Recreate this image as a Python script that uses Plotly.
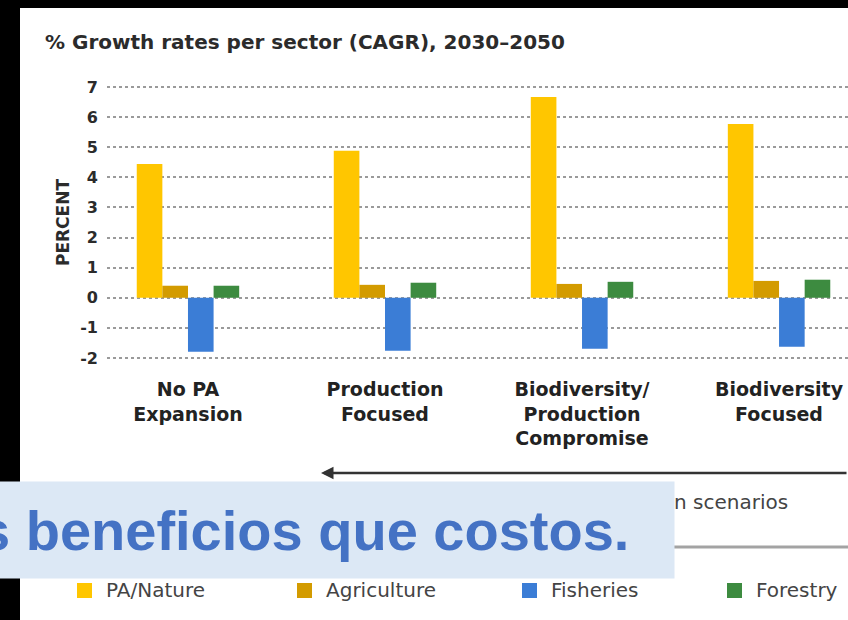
import plotly.graph_objects as go

# Scenario categories and sector growth rates (CAGR %, 2030-2050)
scenarios = ["No PA<br>Expansion", "Production<br>Focused",
             "Biodiversity/<br>Production<br>Compromise", "Biodiversity<br>Focused"]
pa_nature = [4.44, 4.88, 6.67, 5.77]
agriculture = [0.40, 0.43, 0.46, 0.56]
fisheries = [-1.79, -1.76, -1.69, -1.63]
forestry = [0.40, 0.50, 0.53, 0.60]

sector_names = ["PA/Nature", "Agriculture", "Fisheries", "Forestry"]
sector_colors = ["#FFC600", "#D39B00", "#3B7DD6", "#3D8B40"]

y_tick_vals = [-2, -1, 0, 1, 2, 3, 4, 5, 6, 7]
y_tick_text = ["-2", "-1", "0", "1", "2", "3", "4", "5", "6", "7"]

W, H = 848, 620
L, R, T, B = 107, 0, 84, 259
PW, PH = W - L - R, H - T - B


def px(xp):
    """pixel x -> paper x"""
    return (xp - L) / PW


def py(yp):
    """pixel y -> paper y"""
    return (T + PH - yp) / PH


fig = go.Figure()
for name, vals, col in zip(sector_names, [pa_nature, agriculture, fisheries, forestry], sector_colors):
    fig.add_trace(go.Bar(x=scenarios, y=vals, name=name, marker=dict(color=col, line=dict(width=0))))

fam = "DejaVu Sans"
fig.update_layout(
    width=W, height=H,
    margin=dict(l=L, r=R, t=T, b=B),
    paper_bgcolor="white", plot_bgcolor="white",
    barmode="group", bargap=0.48, bargroupgap=0,
    showlegend=False,
    title=dict(text="% Growth rates per sector (CAGR), 2030\u20132050",
               font=dict(family=fam, size=20, color="#2b2b2b", weight="bold"),
               x=45 / W, xref="container", xanchor="left",
               y=1 - 42 / H, yref="container", yanchor="middle"),
    xaxis=dict(range=[-0.411, 3.35], showgrid=False, zeroline=False, showline=False,
               tickfont=dict(family=fam, size=19, color="#222", weight="bold"),
               ticklabelstandoff=15, ticks=""),
    yaxis=dict(range=[-2.1, 7.1], tickvals=y_tick_vals, ticktext=y_tick_text,
               showgrid=True, gridcolor="#9a9a9a", gridwidth=1.5, griddash="dot",
               zeroline=False, showline=False, ticks="",
               tickfont=dict(family=fam, size=16, color="#2b2b2b", weight="bold"),
               ticklabelstandoff=8,
               title=dict(text="PERCENT", font=dict(family=fam, size=17, color="#2b2b2b", weight="bold"),
                          standoff=6)),
)

# dark frame strips around the slide
fig.add_shape(type="rect", xref="paper", yref="paper", x0=px(-5), x1=px(20), y0=py(630), y1=py(-10),
              fillcolor="black", line=dict(width=0), layer="above")
fig.add_shape(type="rect", xref="paper", yref="paper", x0=px(-5), x1=px(860), y0=py(8), y1=py(-10),
              fillcolor="black", line=dict(width=0), layer="above")

# gray rule under the scenario caption
fig.add_shape(type="line", xref="paper", yref="paper", x0=px(300), x1=px(870), y0=py(547), y1=py(547),
              line=dict(color="#a3a3a3", width=3))

# scenario direction arrow
fig.add_annotation(xref="paper", yref="paper", x=px(321), y=py(473), ax=560, ay=0,
                   text="", showarrow=True, arrowhead=2, arrowsize=1, arrowwidth=2.5, arrowcolor="#333")

fig.add_annotation(xref="paper", yref="paper", x=px(672), y=py(502), xanchor="left", yanchor="middle",
                   text="n scenarios", showarrow=False,
                   font=dict(family=fam, size=20, color="#444"))

# sector legend: colour swatch + label
legend_swatch_x = [77, 297, 522, 727]
for name, col, sx in zip(sector_names, sector_colors, legend_swatch_x):
    fig.add_shape(type="rect", xref="paper", yref="paper", x0=px(sx), x1=px(sx + 15),
                  y0=py(598), y1=py(583), fillcolor=col, line=dict(width=0))
    fig.add_annotation(xref="paper", yref="paper", x=px(sx + 27), y=py(590), xanchor="left",
                       yanchor="middle", text=name, showarrow=False,
                       font=dict(family=fam, size=20, color="#444"))

# caption banner
fig.add_annotation(xref="paper", yref="paper", x=px(675), y=py(530), xanchor="right", yanchor="middle",
                   text="s beneficios que costos.", showarrow=False, align="left",
                   width=691, height=88, borderpad=4, bgcolor="#DCE8F5",
                   font=dict(family="Liberation Sans", size=56, color="#4472C4", weight="bold"))

fig.write_html("out.html")
